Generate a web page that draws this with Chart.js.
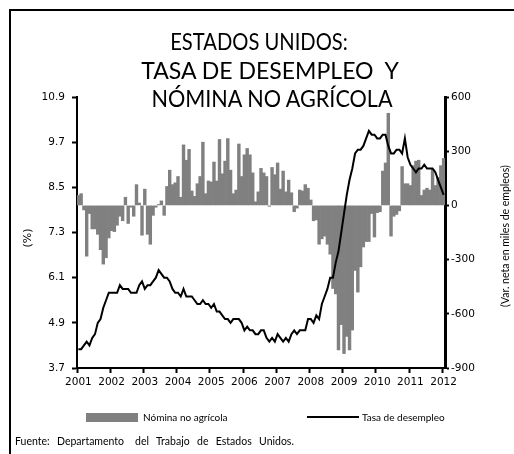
<!DOCTYPE html>
<html>
<head>
<meta charset="utf-8">
<script src="https://cdn.jsdelivr.net/npm/chart.js@4.4.1/dist/chart.umd.min.js"></script>
<style>
  html, body { margin: 0; padding: 0; background: #fff; }
  #wrap { position: relative; width: 514px; height: 454px; overflow: hidden; background: #fff; }
  #frame { position: absolute; left: 9px; top: 9px; width: 700px; height: 700px;
           border-left: 2px solid #000; border-top: 2px solid #000; }
  canvas { position: absolute; left: 0; top: 0; }
  .t { position: absolute; white-space: pre;
       font-family: Lato, "Open Sans", sans-serif; font-size: 24px; line-height: 28px; color: #000; }
  .rot { position: absolute; white-space: pre; color: #000;
         transform: translate(-50%, -50%) rotate(-90deg); }
  .leg { position: absolute; font-family: Lato, sans-serif; font-size: 10px; color: #000; white-space: pre; }
  #foot { position: absolute; left: 15px; top: 435px; font-family: Lato, sans-serif; font-size: 10.5px;
          word-spacing: 1px; white-space: pre; color: #000; }
</style>
</head>
<body>
<div id="wrap">
  <canvas id="c" width="514" height="454"></canvas>
  <div id="frame"></div>
  <div class="t" style="left:259px; top:27px; transform:translateX(-50%) scaleX(0.84);">ESTADOS UNIDOS:</div>
  <div class="t" style="left:270px; top:56px; transform:translateX(-50%) scaleX(0.96);">TASA DE DESEMPLEO  Y</div>
  <div class="t" style="left:272px; top:84px; transform:translateX(-50%) scaleX(0.9);">NÓMINA NO AGRÍCOLA</div>
  <div class="rot" style="left:27px; top:238px; font-family:'DejaVu Sans', sans-serif; font-size:11px;">(%)</div>
  <div class="rot" style="left:505px; top:236px; font-family:Lato, sans-serif; font-size:10.5px;">(Var. neta en miles de empleos)</div>
  <div style="position:absolute; left:86px; top:413px; width:52px; height:9px; background:#808080;"></div>
  <div class="leg" style="left:143px; top:411px;">Nómina no agrícola</div>
  <div style="position:absolute; left:307px; top:416px; width:52px; height:0; border-top:2px solid #000;"></div>
  <div class="leg" style="left:362px; top:411px;">Tasa de desempleo</div>
  <div id="foot">Fuente:  Departamento   del  Trabajo  de  Estados  Unidos.</div>
</div>
<script>
// Year tick labels (one per January)
const yearLabels = ['2001','2002','2003','2004','2005','2006','2007','2008','2009','2010','2011','2012'];
const monthCount = 133; // Jan 2001 .. Jan 2012

// Unemployment rate (%), monthly, Jan 2001 - Jan 2012
const unemploymentRate = [
  4.2,4.2,4.3,4.4,4.3,4.5,4.6,4.9,5.0,5.3,5.5,5.7,
  5.7,5.7,5.7,5.9,5.8,5.8,5.8,5.7,5.7,5.7,5.9,6.0,
  5.8,5.9,5.9,6.0,6.1,6.3,6.2,6.1,6.1,6.0,5.8,5.7,
  5.7,5.6,5.8,5.6,5.6,5.6,5.5,5.4,5.4,5.5,5.4,5.4,
  5.3,5.4,5.2,5.2,5.1,5.0,5.0,4.9,5.0,5.0,5.0,4.9,
  4.7,4.8,4.7,4.7,4.6,4.6,4.7,4.7,4.5,4.4,4.5,4.4,
  4.6,4.5,4.4,4.5,4.4,4.6,4.7,4.6,4.7,4.7,4.7,5.0,
  5.0,4.9,5.1,5.0,5.4,5.6,5.8,6.1,6.1,6.5,6.8,7.3,
  7.8,8.3,8.7,9.0,9.4,9.5,9.5,9.6,9.8,10.0,9.9,9.9,
  9.8,9.8,9.9,9.9,9.6,9.4,9.4,9.5,9.5,9.4,9.8,9.3,
  9.1,9.0,8.9,9.0,9.0,9.1,9.0,9.0,9.0,8.9,8.7,8.5,
  8.3
];

// Nonfarm payrolls, net monthly change (thousands), Jan 2001 - Jan 2012
const nonfarmPayrolls = [
  55,65,-25,-281,-45,-130,-130,-160,-245,-325,-290,-180,
  -140,-145,-110,-60,-85,45,-100,-10,-60,115,13,-165,
  90,-160,-215,-55,-10,5,25,-55,105,195,115,125,
  160,45,335,250,310,80,50,120,160,350,65,135,
  130,240,135,365,175,245,370,195,65,85,340,160,
  280,315,280,180,20,75,205,180,160,-5,210,170,
  235,90,190,75,140,70,-35,-15,85,80,115,95,
  30,-85,-80,-215,-185,-170,-215,-270,-460,-490,-800,-660,
  -820,-725,-800,-690,-360,-480,-340,-230,-200,-200,-45,-175,
  -40,-35,190,235,510,-170,-60,-50,-30,215,120,120,
  110,220,245,250,55,85,95,85,200,110,155,220,
  260
];

const monthLabels = [];
for (let i = 0; i < monthCount; i++) {
  monthLabels.push(yearLabels[Math.floor(i / 12)] + '-' + String(i % 12 + 1).padStart(2, '0'));
}

const tickFont = { family: 'DejaVu Sans', size: 10.5 };

new Chart(document.getElementById('c'), {
  data: {
    labels: monthLabels,
    datasets: [
      { type: 'line', label: 'Tasa de desempleo', data: unemploymentRate, yAxisID: 'y',
        borderColor: '#000', borderWidth: 2, pointRadius: 0, tension: 0, order: 0 },
      { type: 'bar', label: 'Nómina no agrícola', data: nonfarmPayrolls, yAxisID: 'y1',
        backgroundColor: '#808080', barPercentage: 1, categoryPercentage: 1, order: 1 }
    ]
  },
  options: {
    responsive: false,
    animation: false,
    devicePixelRatio: 1,
    layout: { padding: { left: 0, right: 0, top: 97, bottom: 66 } },
    plugins: { legend: { display: false }, tooltip: { enabled: false }, title: { display: false } },
    scales: {
      x: {
        type: 'category',
        offset: true,
        grid: { offset: true, drawOnChartArea: false, drawTicks: true, tickLength: 5, tickWidth: 2,
                tickColor: c => (c.index % 12 === 0 ? '#000' : 'rgba(0,0,0,0)') },
        border: { display: true, color: '#000', width: 2 },
        ticks: { autoSkip: false, maxRotation: 0, minRotation: 0, padding: 3, color: '#000', font: tickFont,
                 callback: (v, i) => (i % 12 === 0 ? yearLabels[i / 12] : '') },
        afterFit: s => { s.height = 20; }
      },
      y: {
        position: 'left', min: 3.7, max: 10.9,
        ticks: { stepSize: 1.2, padding: 7, color: '#000', font: tickFont, callback: v => Number(v).toFixed(1) },
        grid: { drawOnChartArea: false, drawTicks: true, tickLength: 5, tickWidth: 2, tickColor: '#000' },
        border: { display: true, color: '#000', width: 2 },
        afterFit: s => { s.width = 77; }
      },
      y1: {
        position: 'right', min: -900, max: 600,
        ticks: { stepSize: 300, padding: 2, color: '#000', font: tickFont, callback: v => String(v) },
        grid: { drawOnChartArea: false, drawTicks: true, tickLength: 4, tickWidth: 2, tickColor: '#000' },
        border: { display: true, color: '#000', width: 3 },
        afterFit: s => { s.width = 69; }
      }
    }
  }
});
</script>
</body>
</html>
